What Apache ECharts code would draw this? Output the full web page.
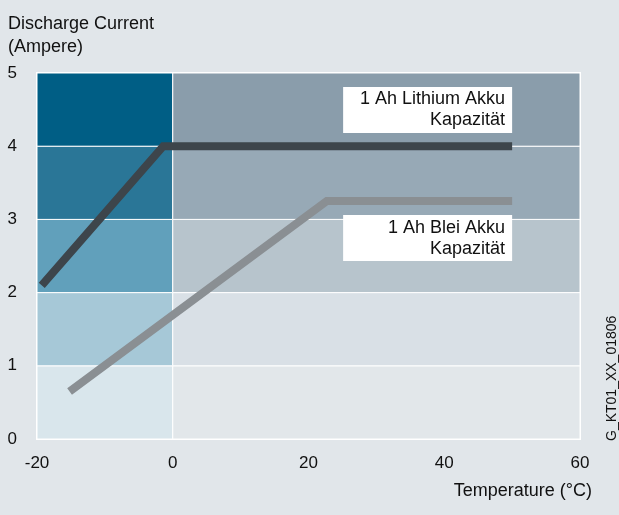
<!DOCTYPE html>
<html>
<head>
<meta charset="utf-8">
<script src="https://cdn.jsdelivr.net/npm/echarts@6/dist/echarts.min.js"></script>
<style>
  html, body { margin: 0; padding: 0; background: #e1e6ea; }
  #chart { width: 619px; height: 515px; }
</style>
</head>
<body>
<div id="chart"></div>
<script>
// data
const xTicks = [-20, 0, 20, 40, 60];
const yBands = [0, 1, 2, 3, 4, 5];
const xZones = [-20, 0, 60];
const lithiumPoints = [[-19.3, 2.1], [-1.4, 4.0], [50, 4.0]];
const bleiPoints = [[-15.2, 0.65], [22.7, 3.25], [50, 3.25]];
const lithiumLabel = '1 Ah Lithium Akku\nKapazität';
const bleiLabel = '1 Ah Blei Akku\nKapazität';
const lithiumBox = [50, 4.81, 4.18];   // right x, top y, bottom y
const bleiBox = [50, 3.06, 2.43];

// band colours, bottom to top
const coldColors = ['#d9e6ec', '#a6c8d7', '#61a0bb', '#2a7697', '#005e85'];
const warmColors = ['#e2e7ea', '#d9e0e6', '#b7c4cc', '#97a9b6', '#8a9dab'];

const font = 'Liberation Sans, Arial, sans-serif';

let areas = [];
for (let i = 0; i < yBands.length - 1; i++) {
    areas.push([
        {coord: [xZones[0], yBands[i]], itemStyle: {color: coldColors[i]}},
        {coord: [xZones[1], yBands[i + 1]]}
    ]);
    areas.push([
        {coord: [xZones[1], yBands[i]], itemStyle: {color: warmColors[i]}},
        {coord: [xZones[2], yBands[i + 1]]}
    ]);
}

let myChart = echarts.init(document.getElementById('chart'));

let option = {
    backgroundColor: '#e1e6ea',
    animation: false,
    title: {
        text: 'Discharge Current\n(Ampere)',
        left: 8,
        top: 13,
        padding: 0,
        textStyle: {
            fontFamily: font,
            fontSize: 18,
            fontWeight: 'normal',
            lineHeight: 23,
            color: '#111'
        }
    },
    grid: {
        left: 37,
        right: 39,
        top: 73,
        bottom: 76,
        show: true,
        backgroundColor: 'transparent',
        borderColor: '#fff',
        borderWidth: 2
    },
    xAxis: {
        type: 'value',
        min: xTicks[0],
        max: xTicks[xTicks.length - 1],
        interval: 20,
        axisLine: {lineStyle: {color: '#fff', width: 2}},
        axisTick: {inside: true, length: 14, lineStyle: {color: '#fff', width: 2}},
        splitLine: {show: false},
        axisLabel: {
            margin: 16,
            fontFamily: font,
            fontSize: 17,
            color: '#111'
        }
    },
    yAxis: {
        type: 'value',
        min: yBands[0],
        max: yBands[yBands.length - 1],
        interval: 1,
        axisLine: {show: true, lineStyle: {color: '#fff', width: 2}},
        axisTick: {show: false},
        splitLine: {show: false},
        axisLabel: {
            margin: 20,
            fontFamily: font,
            fontSize: 17,
            color: '#111'
        }
    },
    series: [
        {
            type: 'line',
            data: [],
            z: 1,
            markArea: {
                silent: true,
                itemStyle: {borderColor: '#fff', borderWidth: 1},
                data: areas
            }
        },
        {
            name: 'Lithium',
            type: 'line',
            z: 5,
            symbol: 'none',
            data: lithiumPoints,
            lineStyle: {color: '#3d454b', width: 8, cap: 'butt', join: 'miter'}
        },
        {
            name: 'Blei',
            type: 'line',
            z: 5,
            symbol: 'none',
            data: bleiPoints,
            lineStyle: {color: '#8a8f93', width: 8, cap: 'butt', join: 'miter'}
        }
    ]
};

myChart.setOption(option);

// label boxes placed through the axes
function box(spec, text) {
    let tr = myChart.convertToPixel({gridIndex: 0}, [spec[0], spec[1]]);
    let br = myChart.convertToPixel({gridIndex: 0}, [spec[0], spec[2]]);
    let w = 169;
    let h = br[1] - tr[1];
    return {
        type: 'group',
        x: tr[0] - w,
        y: tr[1],
        children: [
            {type: 'rect', z: 20, shape: {x: 0, y: 0, width: w, height: h}, style: {fill: '#fff'}},
            {
                type: 'text',
                z: 21,
                x: w - 7,
                y: h / 2,
                style: {
                    text: text,
                    align: 'right',
                    verticalAlign: 'middle',
                    font: '18px ' + font,
                    lineHeight: 21,
                    fill: '#111'
                }
            }
        ]
    };
}

myChart.setOption({
    graphic: [
        box(lithiumBox, lithiumLabel),
        box(bleiBox, bleiLabel),
        {
            type: 'text',
            right: 27,
            top: 482,
            style: {text: 'Temperature (°C)', font: '18px ' + font, fill: '#111'}
        },
        {
            type: 'text',
            x: 605,
            y: 441,
            rotation: Math.PI / 2,
            style: {text: 'G_KT01_XX_01806', font: '14px ' + font, fill: '#111'}
        }
    ]
});
</script>
</body>
</html>
